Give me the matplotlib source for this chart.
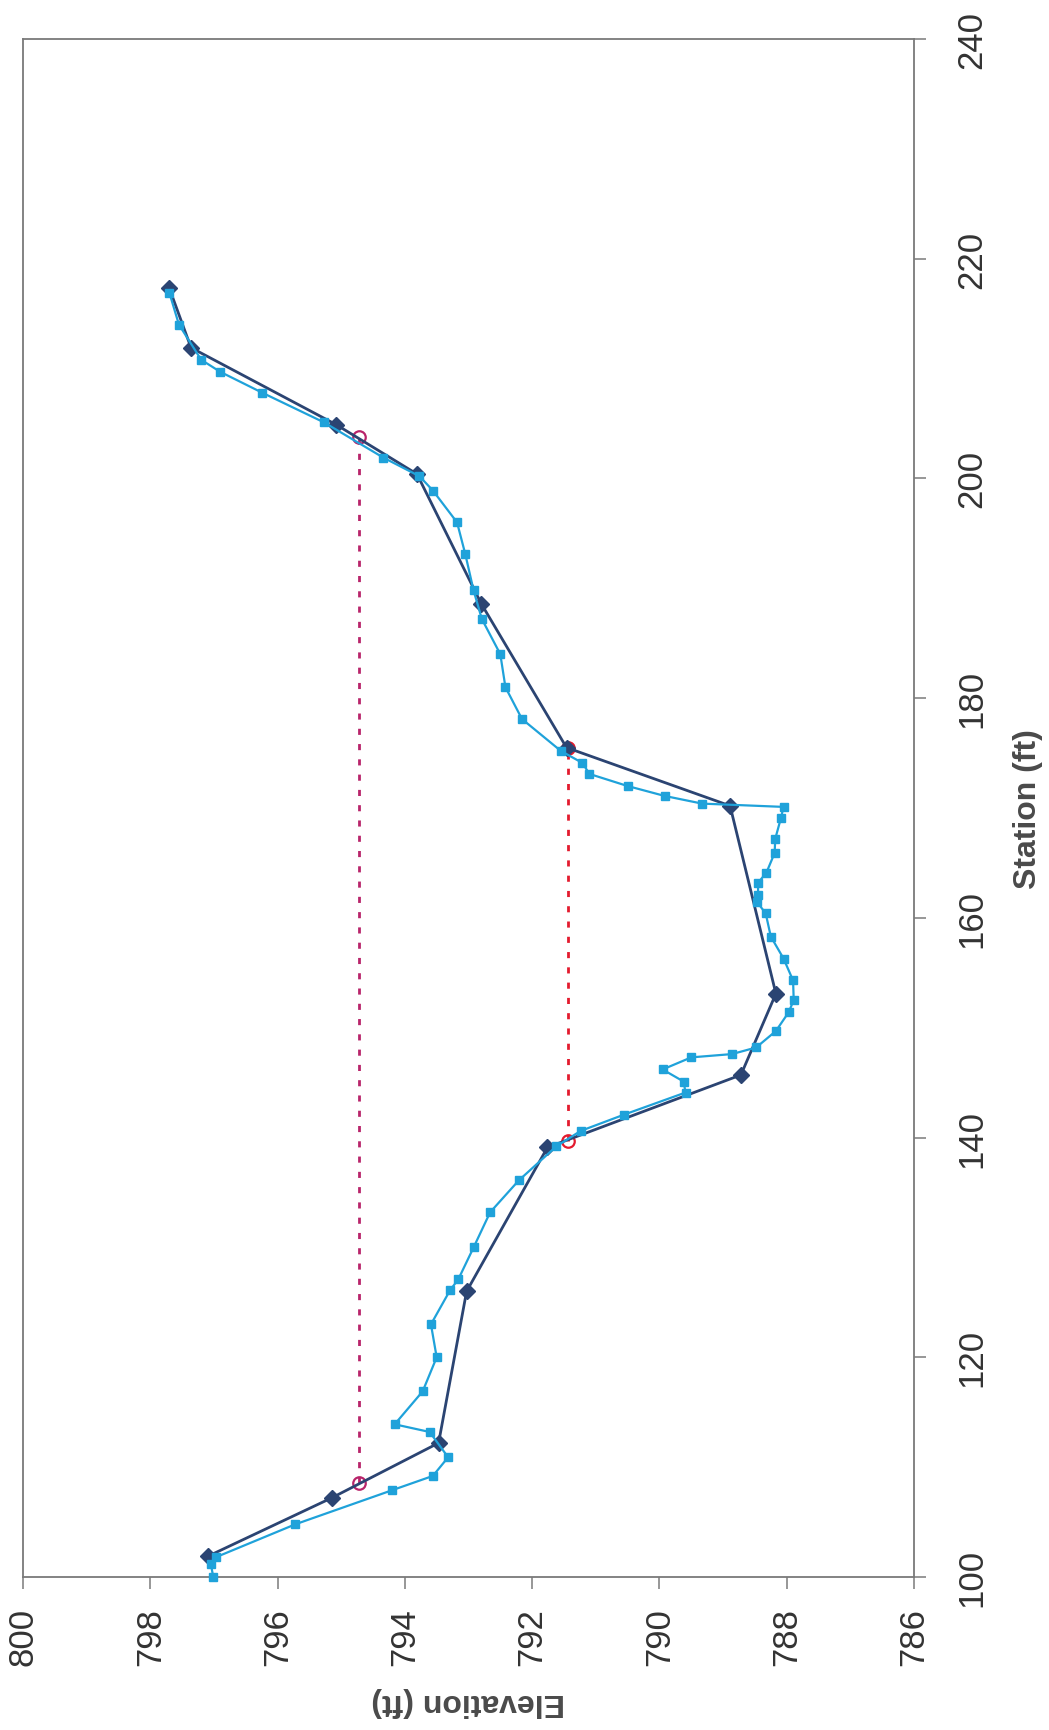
import matplotlib
matplotlib.use('Agg')
import matplotlib.pyplot as plt
import numpy as np

# survey cross-section (page is scanned rotated 90 deg: station runs up, elevation runs left)
station_survey = [101.9, 107.2, 112.2, 126.0, 139.1, 145.7, 153.1, 170.2, 175.5,
                  188.6, 200.4, 204.9, 211.9, 217.3]
elev_survey = [797.09, 795.15, 793.47, 793.03, 791.76, 788.72, 788.17, 788.89, 791.46,
               792.80, 793.81, 795.08, 797.36, 797.70]

station_detail = [100.0, 101.2, 101.8, 104.8, 107.9, 109.2, 110.9, 113.2, 113.9, 116.9,
                  120.0, 123.0, 126.1, 127.1, 130.0, 133.2, 136.1, 139.2, 140.6, 142.1,
                  144.1, 145.1, 146.2, 147.3, 147.6, 148.2, 149.7, 151.4, 152.5, 154.3,
                  156.3, 158.3, 160.4, 161.4, 162.1, 163.2, 164.1, 165.9, 167.2, 169.1,
                  170.1, 170.4, 171.1, 172.0, 173.1, 174.1, 175.2, 178.1, 181.0, 184.0,
                  187.2, 189.8, 193.1, 196.0, 198.9, 200.2, 201.9, 205.1, 207.8, 209.7,
                  210.8, 214.0, 216.9]
elev_detail = [797.01, 797.05, 796.97, 795.72, 794.20, 793.56, 793.32, 793.61, 794.16, 793.72,
               793.50, 793.59, 793.29, 793.16, 792.92, 792.66, 792.21, 791.62, 791.24, 790.55,
               789.59, 789.62, 789.95, 789.50, 788.86, 788.48, 788.17, 787.97, 787.89, 787.90,
               788.05, 788.25, 788.33, 788.46, 788.45, 788.45, 788.32, 788.19, 788.18, 788.09,
               788.05, 789.33, 789.92, 790.50, 791.10, 791.21, 791.55, 792.16, 792.42, 792.50,
               792.79, 792.92, 793.05, 793.18, 793.56, 793.77, 794.34, 795.27, 796.24, 796.90,
               797.20, 797.55, 797.70]

# water surface lines: (elevation, station left, station right)
wse_high = [794.72, 108.6, 203.8]
wse_low = [791.44, 139.7, 175.5]

elev_ticks = [800, 798, 796, 794, 792, 790, 788, 786]
station_ticks = [100, 120, 140, 160, 180, 200, 220, 240]

dark = '#2b4472'
light = '#1fa2da'
magenta = '#b8246a'
red = '#e31b2e'
grey = '#7a7a7a'

fig = plt.figure(figsize=(10.49, 17.31), dpi=100)
ax = fig.add_axes([23/1049, 1 - 1578/1731, (914 - 23)/1049, (1578 - 40)/1731])

# water surfaces
ax.plot([wse_high[0], wse_high[0]], wse_high[1:], color=magenta, lw=2,
        linestyle=(0, (2.2, 3.3)), zorder=1.5)
ax.plot([wse_high[0], wse_high[0]], wse_high[1:], 'o', mfc='none', mec=magenta,
        ms=9, mew=1.6, zorder=1.6)
ax.plot([wse_low[0], wse_low[0]], wse_low[1:], color=red, lw=2,
        linestyle=(0, (2.2, 3.3)), zorder=1.5)
ax.plot([wse_low[0], wse_low[0]], wse_low[1:], 'o', mfc='none', mec=red,
        ms=9, mew=1.6, zorder=1.6)

ax.plot(elev_survey, station_survey, color=dark, lw=2.0, marker='D', ms=8.5,
        zorder=2, clip_on=False)
ax.plot(elev_detail, station_detail, color=light, lw=1.6, marker='s', ms=6,
        zorder=3, clip_on=False)

ax.set_xlim(800, 786)
ax.set_ylim(100, 240)
ax.set_xticks(elev_ticks)
ax.set_yticks(station_ticks)
ax.set_xticklabels([str(v) for v in elev_ticks], rotation=90)
ax.set_yticklabels([str(v) for v in station_ticks], rotation=90, va='center')
ax.yaxis.tick_right()
ax.yaxis.set_label_position('right')

for s in ax.spines.values():
    s.set_color(grey)
    s.set_linewidth(1.3)

ax.tick_params(axis='both', direction='out', length=8.5, width=1.1, color=grey,
               labelcolor='#333333')
ax.tick_params(axis='x', pad=13)
ax.tick_params(axis='y', pad=21)
for lab in ax.get_xticklabels() + ax.get_yticklabels():
    lab.set_fontfamily(['Liberation Sans', 'DejaVu Sans'])
    lab.set_fontsize(25)

ax.set_xlabel('Elevation (ft)', rotation=180, fontsize=23, fontweight='bold',
              color='#4a4a4a', family=['Liberation Sans', 'DejaVu Sans'],
              ha='center', va='center')
ax.xaxis.set_label_coords(0.5, -124/1538)
ax.set_ylabel('Station (ft)', rotation=90, fontsize=23, fontweight='bold',
              color='#4a4a4a', family=['Liberation Sans Narrow', 'Liberation Sans', 'DejaVu Sans'],
              ha='center', va='center')
ax.yaxis.set_label_coords((1028 - 23)/891, 0.5)

fig.savefig('out.png', dpi=100)
